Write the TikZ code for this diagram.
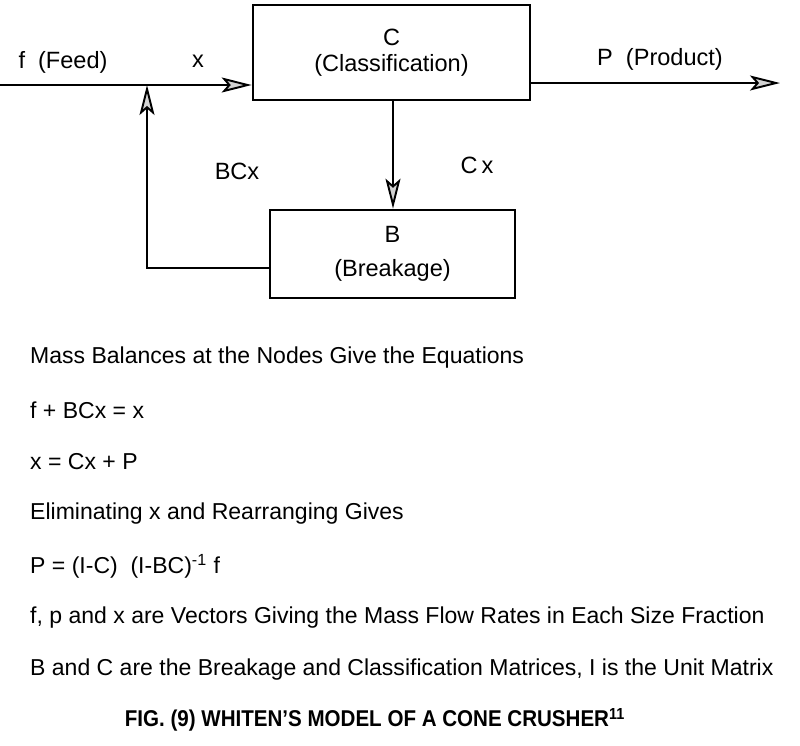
\documentclass[tikz,border=0pt]{standalone}
\usepackage{fontspec}
\setmainfont{Liberation Sans}
\newfontfamily\capfont[FakeStretch=0.9]{Liberation Sans}
\usetikzlibrary{arrows.meta}

\tikzset{
  box/.style={draw,line width=1.5pt,rectangle,align=center,inner sep=0pt},
  flow/.style={draw,line width=1.1pt,-{Stealth[length=6mm,width=3mm,inset=1.3mm,fill=gray!35]}},
  lbl/.style={font=\fontsize{13.4}{15}\selectfont},
  txt/.style={font=\fontsize{13.1}{15}\selectfont,anchor=west}
}

\begin{document}
\begin{tikzpicture}[x=0.02cm,y=-0.02cm]
    \useasboundingbox (0,0) rectangle (800,745);

    \node[box,minimum width=277*0.02cm,minimum height=95*0.02cm,lbl] (C) at (391.5,52.5)
      {C\\[0pt](Classification)};
    \node[box,minimum width=245*0.02cm,minimum height=88*0.02cm,lbl] (B) at (392.5,254)
      {B\\[4pt](Breakage)};

    \coordinate (feed) at (0,85);
    \coordinate (join) at (147,85);
    \coordinate (prod) at (780,83);
    \coordinate (turn) at (147,268);

    \path[flow] (feed) -- (C.west |- feed);
    \path[flow] (C.east |- prod) -- (prod);
    \path[flow] (C.south -| 393,0) -- (B.north -| 393,0);
    \path[flow] (B.west |- turn) -- (turn) -- (join);

    \node[lbl] (flbl) at (63,62) {f\ \ (Feed)};
    \node[lbl] (xlbl) at (198,61) {x};
    \node[lbl] (plbl) at (660,59) {P\ \ (Product)};
    \node[lbl] (bcx) at (237,171) {BCx};
    \node[lbl] (cx) at (477,165) {C\,x};

    \def \Lines {
      358/{Mass Balances at the Nodes Give the Equations},
      410/{f + BCx = x},
      462/{x = Cx + P},
      514/{Eliminating x and Rearranging Gives},
      566/{P = (I-C)\ \ (I-BC)\textsuperscript{-1} f},
      618/{f, p and x are Vectors Giving the Mass Flow Rates in Each Size Fraction},
      670/{B and C are the Breakage and Classification Matrices, I is the Unit Matrix}}

    \foreach \y / \t [count=\n] in \Lines {
      \node[txt] (line\n) at (24,\y) {\t};
    }

    \node[font=\capfont\bfseries\fontsize{13}{15}\selectfont] (cap) at (375,720)
      {FIG. (9) WHITEN’S MODEL OF A CONE CRUSHER\textsuperscript{11}};
  \end{tikzpicture}
\end{document}
